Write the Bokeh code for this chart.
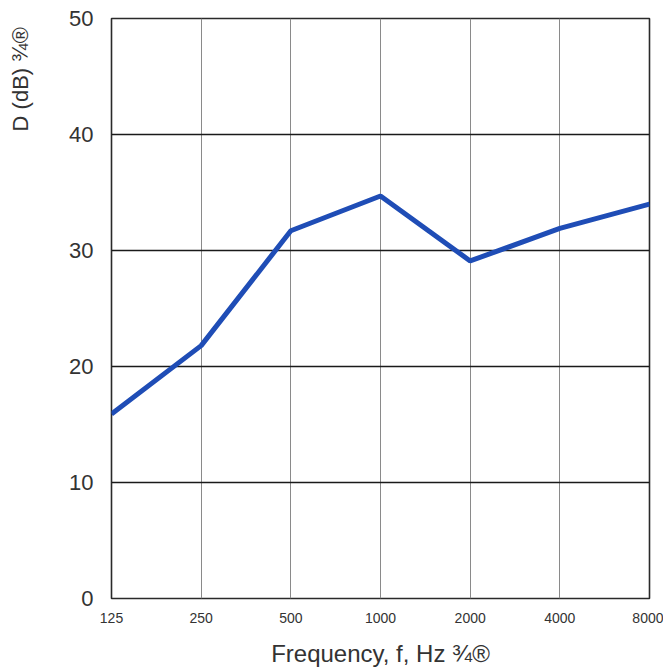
import math
from bokeh.plotting import figure
from bokeh.layouts import row
from bokeh.models import FixedTicker, PrintfTickFormatter, Range1d
from bokeh.core.properties import value
from bokeh.embed import file_html
from bokeh.resources import INLINE

freqs = [125, 250, 500, 1000, 2000, 4000, 8000]
d_values = [15.9, 21.8, 31.7, 34.7, 29.1, 31.9, 34.0]
y_ticks = [0, 10, 20, 30, 40, 50]
x_title = "Frequency, f, Hz ¾®"
y_title = "D (dB) ¾®"

FONT = "Liberation Sans"
TXT = "#333333"
TOTAL = 663
SIDE_W = 36

# narrow strip holding the y-axis title near the top, as in the original
side = figure(
    width=SIDE_W, height=TOTAL,
    x_range=Range1d(0, SIDE_W), y_range=Range1d(0, TOTAL),
    x_axis_location=None, y_axis_location=None,
    min_border=0, output_backend="svg", toolbar_location=None,
)
side.outline_line_color = None
side.xgrid.visible = False
side.ygrid.visible = False
side.text(x=[20], y=[TOTAL - 10], text=[y_title], angle=math.pi / 2,
          text_align="right", text_baseline="middle",
          text_font=value(FONT), text_font_size="22px", text_color=TXT)

p = figure(
    x_axis_type="log",
    x_range=Range1d(freqs[0], freqs[-1]),
    y_range=Range1d(y_ticks[0], y_ticks[-1]),
    frame_width=538,
    frame_height=580,
    min_border_left=111 - SIDE_W,
    min_border_right=14,
    min_border_top=18,
    min_border_bottom=65,
    output_backend="svg",
    toolbar_location=None,
)

p.line(freqs, d_values, line_color="#1f4db6", line_width=5)

p.xaxis.ticker = FixedTicker(ticks=freqs)
p.xaxis.formatter = PrintfTickFormatter(format="%d")
p.yaxis.ticker = FixedTicker(ticks=y_ticks)

for ax in (p.xaxis, p.yaxis):
    ax.axis_line_color = None
    ax.major_tick_line_color = None
    ax.minor_tick_line_color = None
    ax.major_tick_out = 0
    ax.major_tick_in = 0
    ax.major_label_text_font = FONT
    ax.major_label_text_color = TXT
    ax.axis_label_text_font = FONT
    ax.axis_label_text_color = TXT
    ax.axis_label_text_font_style = "normal"

p.xaxis.major_label_text_font_size = "14px"
p.xaxis.major_label_standoff = 14
p.xaxis.axis_label = x_title
p.xaxis.axis_label_text_font_size = "24px"
p.xaxis.axis_label_standoff = 14

p.yaxis.major_label_text_font_size = "22px"
p.yaxis.major_label_standoff = 18

p.xgrid.grid_line_color = "#8a8a8a"
p.xgrid.grid_line_width = 1
p.ygrid.grid_line_color = "#1a1a1a"
p.ygrid.grid_line_width = 1.6

p.outline_line_color = "#2a2a2a"
p.outline_line_width = 1.6
p.background_fill_color = "white"
p.border_fill_color = "white"

layout = row(side, p, spacing=0)
open("out.html", "w").write(file_html(layout, INLINE))
